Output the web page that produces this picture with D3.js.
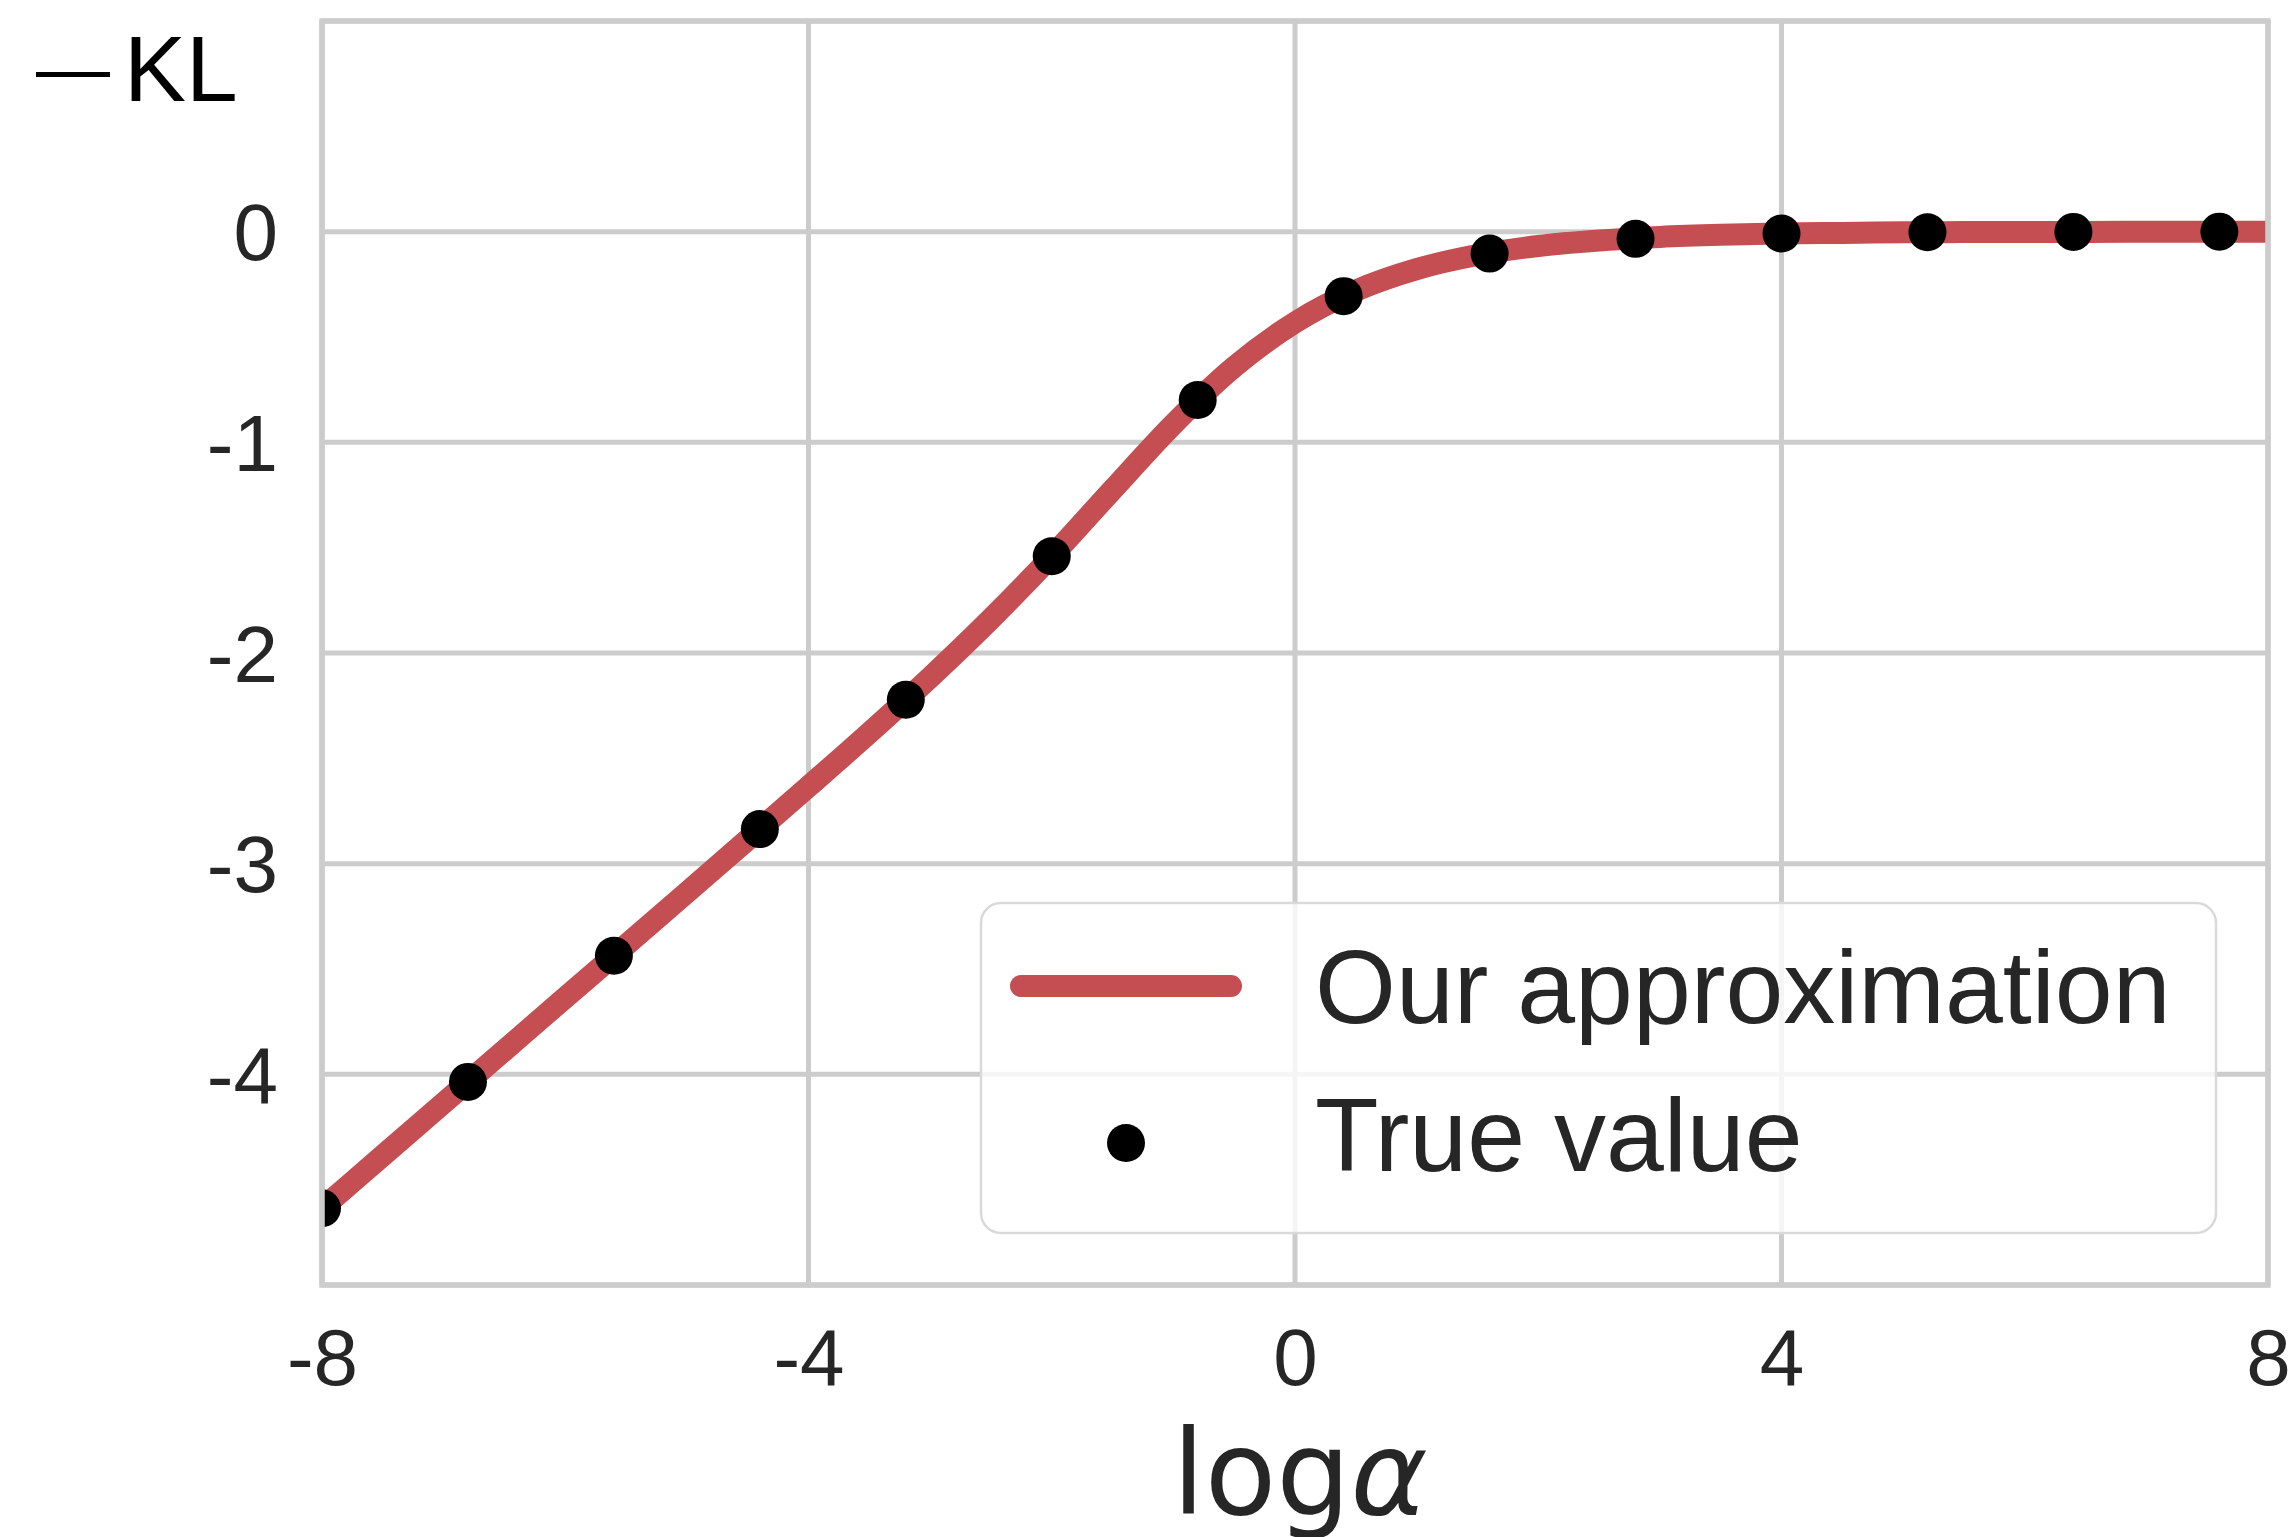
<!DOCTYPE html>
<html>
<head>
<meta charset="utf-8">
<script src="https://cdn.jsdelivr.net/npm/d3@7"></script>
<style>
  html, body { margin: 0; padding: 0; background: #ffffff; }
  svg { display: block; }
</style>
</head>
<body>
<svg id="chart" width="2291" height="1537"></svg>
<script>
// Smooth approximation curve of -KL as a function of log(alpha)
const approxX = [-8, -7.5, -7, -6.5, -6, -5.5, -5, -4.5, -4, -3.5, -3, -2.5, -2, -1.5, -1, -0.5,
                 0, 0.5, 1, 1.5, 2, 2.5, 3, 3.5, 4, 4.5, 5, 5.5, 6, 6.5, 7, 7.5, 8];
const approxY = [-4.636, -4.386, -4.136, -3.886, -3.636, -3.387, -3.137, -2.886, -2.634, -2.379,
                 -2.116, -1.838, -1.541, -1.225, -0.914, -0.642, -0.431, -0.280, -0.178, -0.111,
                 -0.068, -0.042, -0.025, -0.015, -0.009, -0.006, -0.003, -0.002, -0.001, -0.001,
                 0, 0, 0];

// Sampled true values
const trueX = [-8, -6.8, -5.6, -4.4, -3.2, -2.0, -0.8, 0.4, 1.6, 2.8, 4.0, 5.2, 6.4, 7.6];
const trueY = [-4.636, -4.036, -3.437, -2.836, -2.222, -1.541, -0.799, -0.306, -0.104, -0.034,
               -0.009, -0.003, -0.001, 0];

// Axis ticks
const xTicks = [-8, -4, 0, 4, 8];
const yTicks = [0, -1, -2, -3, -4];
const xGrid = [-8, -4, 0, 4, 8];
const yGrid = [1, 0, -1, -2, -3, -4, -5];

const seriesNames = ["Our approximation", "True value"];

const svg = d3.select("#chart");
const plot = { left: 322, right: 2268, top: 21, bottom: 1285 };

const x = d3.scaleLinear().domain([-8, 8]).range([plot.left, plot.right]);
const y = d3.scaleLinear().domain([-5, 1]).range([plot.bottom, plot.top]);

const TEXT = "#262626";
const GRID = "#cccccc";
const RED = "#c44e52";
const SANS = "'Liberation Sans', Arial, sans-serif";

svg.append("defs").append("clipPath").attr("id", "plotClip")
  .append("rect")
  .attr("x", plot.left).attr("y", plot.top)
  .attr("width", plot.right - plot.left).attr("height", plot.bottom - plot.top);

// Grid
const grid = svg.append("g");
grid.selectAll("line.gx").data(xGrid).enter().append("line")
  .attr("x1", d => x(d)).attr("x2", d => x(d))
  .attr("y1", plot.top).attr("y2", plot.bottom)
  .attr("stroke", GRID).attr("stroke-width", 5);
grid.selectAll("line.gy").data(yGrid).enter().append("line")
  .attr("y1", d => y(d)).attr("y2", d => y(d))
  .attr("x1", plot.left).attr("x2", plot.right)
  .attr("stroke", GRID).attr("stroke-width", 5);

// Data layer
const data = svg.append("g").attr("clip-path", "url(#plotClip)");
const linePts = approxX.map((v, i) => [v, approxY[i]]);
const line = d3.line().x(d => x(d[0])).y(d => y(d[1])).curve(d3.curveMonotoneX);
data.append("path")
  .datum(linePts)
  .attr("d", line)
  .attr("fill", "none")
  .attr("stroke", RED)
  .attr("stroke-width", 22)
  .attr("stroke-linejoin", "round");

const dots = trueX.map((v, i) => [v, trueY[i]]);
data.selectAll("circle").data(dots).enter().append("circle")
  .attr("cx", d => x(d[0])).attr("cy", d => y(d[1]))
  .attr("r", 19).attr("fill", "#000000");

// Frame
svg.append("rect")
  .attr("x", plot.left).attr("y", plot.top)
  .attr("width", plot.right - plot.left).attr("height", plot.bottom - plot.top)
  .attr("fill", "none").attr("stroke", GRID).attr("stroke-width", 5.5);

// Axes (labels only, no tick marks)
const fmt = d => (d < 0 ? "-" + Math.abs(d) : String(d));
const xAxis = svg.append("g").attr("transform", `translate(0,${plot.bottom})`)
  .call(d3.axisBottom(x).tickValues(xTicks).tickFormat(fmt).tickSize(0).tickPadding(100));
const yAxis = svg.append("g").attr("transform", `translate(${plot.left},0)`)
  .call(d3.axisLeft(y).tickValues(yTicks).tickFormat(fmt).tickSize(0).tickPadding(44));
[xAxis, yAxis].forEach(g => {
  g.select(".domain").remove();
  g.selectAll("text")
    .attr("fill", TEXT)
    .style("font-family", SANS)
    .style("font-size", "80px");
});
xAxis.selectAll("text").attr("dy", null).attr("y", 100);
yAxis.selectAll("text").attr("dy", "0.35em");

// Axis titles
svg.append("text")
  .attr("x", x(0) + 5).attr("y", 1514)
  .attr("text-anchor", "middle")
  .attr("fill", TEXT)
  .style("font-family", "'DejaVu Sans', sans-serif")
  .style("font-size", "117px")
  .call(t => {
    t.append("tspan").text("log");
    t.append("tspan").attr("font-style", "italic").text("α");
  });

svg.append("text")
  .attr("x", 36).attr("y", 101)
  .attr("fill", "#000000")
  .style("font-family", SANS)
  .call(t => {
    t.append("tspan").attr("dy", -8).style("font-size", "74px").text("—");
    t.append("tspan").attr("dx", 14).attr("dy", 8).style("font-size", "93px").text("KL");
  });

// Legend
const legend = svg.append("g");
legend.append("rect")
  .attr("x", 981).attr("y", 903)
  .attr("width", 1235).attr("height", 330)
  .attr("rx", 20).attr("ry", 20)
  .attr("fill", "#ffffff").attr("fill-opacity", 0.8)
  .attr("stroke", "#d9d9d9").attr("stroke-width", 2.5);
legend.append("line")
  .attr("x1", 1021).attr("x2", 1231)
  .attr("y1", 986).attr("y2", 986)
  .attr("stroke", RED).attr("stroke-width", 22).attr("stroke-linecap", "round");
legend.append("circle")
  .attr("cx", 1126).attr("cy", 1143).attr("r", 19).attr("fill", "#000000");
legend.selectAll("text.lab").data(seriesNames).enter().append("text")
  .attr("x", 1315)
  .attr("y", (d, i) => i === 0 ? 1023 : 1171)
  .attr("fill", TEXT)
  .style("font-family", SANS)
  .style("font-size", "104px")
  .text(d => d);
</script>
</body>
</html>
